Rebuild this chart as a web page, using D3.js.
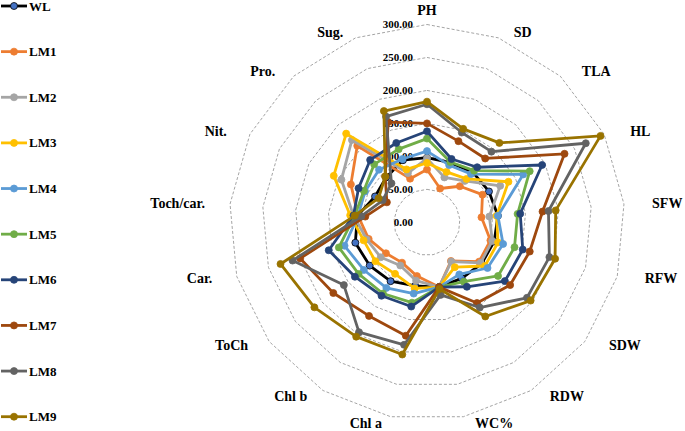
<!doctype html>
<html>
  <head>
    <script src="https://cdn.jsdelivr.net/npm/d3@7"></script>
    <style>
      body { margin: 0; background: #fff; }
      text { font-family: "Liberation Serif", "Times New Roman", serif; font-weight: bold; fill: #000; }
    </style>
  </head>
  <body>
    <svg id="chart" width="685" height="431"></svg>

    <script>
      // axes of the radar, clockwise from the top
      var axes = ["PH", "SD", "TLA", "HL", "SFW", "RFW", "SDW", "RDW", "WC%", "Chl a",
                  "Chl b", "ToCh", "Car.", "Toch/car.", "Nit.", "Pro.", "Sug."];

      var seriesNames = ["WL", "LM1", "LM2", "LM3", "LM4", "LM5", "LM6", "LM7", "LM8", "LM9"];

      // values, one per axis
      var WL  = [98, 97, 103, 105, 108, 106, 104, 100, 100, 98, 105, 109, 113, 106, 88, 92, 101];
      var LM1 = [80, 55, 74, 94, 83, 100, 99, 69, 100, 83, 72, 78, 92, 105, 129, 157, 71];
      var LM2 = [97, 73, 85, 124, 95, 103, 102, 70, 100, 90, 77, 88, 95, 112, 145, 169, 80];
      var LM3 = [90, 82, 89, 138, 106, 112, 110, 80, 100, 102, 92, 98, 100, 117, 158, 182, 86];
      var LM4 = [108, 93, 99, 163, 108, 120, 115, 93, 100, 110, 117, 120, 130, 105, 105, 108, 103];
      var LM5 = [127, 98, 106, 174, 138, 138, 135, 106, 100, 124, 127, 130, 139, 110, 107, 119, 119];
      var LM6 = [138, 103, 113, 195, 142, 151, 148, 115, 100, 130, 131, 137, 155, 112, 116, 128, 129];
      var LM7 = [150, 132, 131, 233, 176, 162, 158, 144, 100, 175, 167, 178, 200, 94, 68, 94, 163];
      var LM8 = [179, 146, 145, 269, 185, 193, 190, 152, 112, 189, 196, 158, 212, 100, 75, 80, 172];
      var LM9 = [183, 152, 163, 294, 196, 202, 197, 168, 103, 204, 204, 214, 231, 110, 82, 94, 181];

      var ticks = [0, 50, 100, 150, 200, 250, 300];

      var colors = ["#000000", "#ed7d31", "#a5a5a5", "#ffc000", "#5b9bd5",
                    "#70ad47", "#264478", "#9e480e", "#636363", "#997300"];

      var series = [WL, LM1, LM2, LM3, LM4, LM5, LM6, LM7, LM8, LM9].map(function(v, i) {
        return { name: seriesNames[i], values: v, color: colors[i],
                 marker: i === 0 ? "#4472c4" : colors[i] };
      });

      var cx = 427, cy = 222.3, R = 197.8;
      var svg = d3.select("#chart");

      var r = d3.scaleLinear().domain([0, 300]).range([0, R]);
      var angle = d3.scaleLinear().domain([0, axes.length]).range([0, 2 * Math.PI]);

      var g = svg.append("g").attr("transform", "translate(" + cx + "," + cy + ")");

      // dashed rings
      var ring = d3.lineRadial()
        .angle(function(d, i) { return angle(i); })
        .radius(function(d) { return r(d); })
        .curve(d3.curveLinearClosed);

      g.selectAll(".ring")
        .data(ticks.slice(1))
        .enter()
        .append("path")
          .attr("d", function(t) { return ring(axes.map(function() { return t; })); })
          .attr("fill", "none")
          .attr("stroke", "#9a9a9a")
          .attr("stroke-width", 0.9)
          .attr("stroke-dasharray", "3,2");

      // tick labels left of the top axis
      g.selectAll(".tick")
        .data(ticks)
        .enter()
        .append("text")
          .attr("x", -14)
          .attr("y", function(t) { return -r(t); })
          .attr("dy", "0.35em")
          .attr("text-anchor", "end")
          .style("font-size", "11px")
          .text(function(t) { return t.toFixed(2); });

      // axis names
      g.selectAll(".axis-label")
        .data(axes)
        .enter()
        .append("text")
          .attr("x", function(d, i) {
            var s = Math.sin(angle(i));
            var off = s > 0.1 ? 8 : (s < -0.1 ? -5 : 0);
            return 218 * s + off;
          })
          .attr("y", function(d, i) {
            var c = Math.cos(angle(i));
            return Math.abs(Math.sin(angle(i))) < 0.1 ? -212 * c : -204 * c;
          })
          .attr("dy", "0.35em")
          .attr("text-anchor", function(d, i) {
            var s = Math.sin(angle(i));
            return s > 0.1 ? "start" : (s < -0.1 ? "end" : "middle");
          })
          .style("font-size", "14px")
          .text(function(d) { return d; });

      // series lines and markers
      var line = d3.lineRadial()
        .angle(function(d, i) { return angle(i); })
        .radius(function(d) { return r(d); })
        .curve(d3.curveLinearClosed);

      var sg = g.selectAll(".series")
        .data(series)
        .enter()
        .append("g");

      sg.append("path")
        .attr("d", function(d) { return line(d.values); })
        .attr("fill", "none")
        .attr("stroke", function(d) { return d.color; })
        .attr("stroke-width", 2.8)
        .attr("stroke-linejoin", "round");

      sg.selectAll("circle")
        .data(function(d) { return d.values.map(function(v, i) { return { v: v, i: i, s: d }; }); })
        .enter()
        .append("circle")
          .attr("cx", function(d) { return r(d.v) * Math.sin(angle(d.i)); })
          .attr("cy", function(d) { return -r(d.v) * Math.cos(angle(d.i)); })
          .attr("r", 3.5)
          .attr("fill", function(d) { return d.s.marker; })
          .attr("stroke", function(d) { return d.s.color; })
          .attr("stroke-width", 0.8);

      // legend on the left
      var ly = d3.scalePoint().domain(seriesNames).range([6, 416.7]);

      var leg = svg.selectAll(".legend")
        .data(series)
        .enter()
        .append("g")
          .attr("transform", function(d) { return "translate(0," + ly(d.name) + ")"; });

      leg.append("line")
        .attr("x1", 1).attr("x2", 27)
        .attr("stroke", function(d) { return d.color; })
        .attr("stroke-width", 2.8);

      leg.append("circle")
        .attr("cx", 14)
        .attr("r", 3.5)
        .attr("fill", function(d) { return d.marker; })
        .attr("stroke", function(d) { return d.color; })
        .attr("stroke-width", 0.8);

      leg.append("text")
        .attr("x", 29)
        .attr("dy", "0.35em")
        .style("font-size", "13px")
        .text(function(d) { return d.name; });
    </script>
  </body>
</html>
